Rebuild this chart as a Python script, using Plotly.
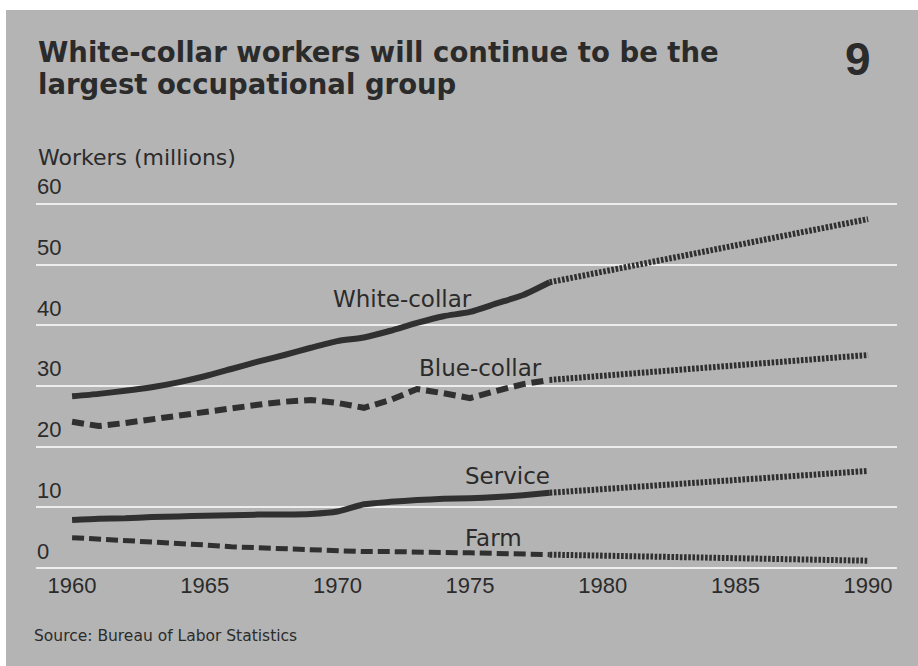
import plotly.graph_objects as go

# Employment by occupational group, millions of workers
years_hist = list(range(1960, 1979))
proj_years = [1978, 1990]

white_collar = [28.3, 28.7, 29.2, 29.8, 30.6, 31.6, 32.8, 34.0, 35.1, 36.3,
                37.4, 38.0, 39.1, 40.4, 41.5, 42.2, 43.6, 45.0, 47.1]
white_collar_proj = [47.1, 57.5]

blue_collar = [24.1, 23.4, 23.9, 24.5, 25.2, 25.9, 26.4, 26.9, 27.4, 27.7,
               27.2, 26.4, 27.7, 29.5, 28.8, 28.0, 29.2, 30.3, 31.0]
blue_collar_proj = [31.0, 35.1]

service = [7.9, 8.1, 8.2, 8.4, 8.5, 8.6, 8.7, 8.8, 8.8, 8.9,
           9.3, 10.5, 10.9, 11.2, 11.4, 11.5, 11.7, 12.0, 12.4]
service_proj = [12.4, 16.0]

farm = [5.0, 4.8, 4.5, 4.3, 4.0, 3.8, 3.5, 3.3, 3.2, 3.0,
        2.8, 2.7, 2.7, 2.7, 2.6, 2.5, 2.4, 2.3, 2.2]
farm_proj = [2.2, 1.2]

x_ticks = [1960, 1965, 1970, 1975, 1980, 1985, 1990]
y_ticks = [0, 10, 20, 30, 40, 50, 60]

series_labels = ["White-collar", "Blue-collar", "Service", "Farm"]
label_pos = [(1972.44, 44.4), (1975.38, 32.9), (1976.4, 15.1), (1975.9, 4.9)]

INK = "#2b2b2b"
LINE = "#303030"
BG = "#b4b4b4"
GRID = "#ededed"
SANS = "DejaVu Sans"
NUM = "Liberation Sans"

W, H = 918, 666
ML, MR, MT, MB = 36, 21, 192, 96

fig = go.Figure()

# historical series
fig.add_trace(go.Scatter(x=years_hist, y=white_collar, mode="lines",
                         line=dict(color=LINE, width=6, shape="spline", smoothing=0.6)))
fig.add_trace(go.Scatter(x=years_hist, y=blue_collar, mode="lines",
                         line=dict(color=LINE, width=6, dash="12px,6px")))
fig.add_trace(go.Scatter(x=years_hist, y=service, mode="lines",
                         line=dict(color=LINE, width=6, shape="spline", smoothing=0.6)))
fig.add_trace(go.Scatter(x=years_hist, y=farm, mode="lines",
                         line=dict(color=LINE, width=5, dash="12px,5px")))

# projections to 1990
for proj in (white_collar_proj, blue_collar_proj, service_proj, farm_proj):
    fig.add_trace(go.Scatter(x=proj_years, y=proj, mode="lines",
                             line=dict(color=LINE, width=6, dash="2.6px,1.6px")))

annotations = []
for name, (lx, ly) in zip(series_labels, label_pos):
    annotations.append(dict(x=lx, y=ly, xref="x", yref="y", text=name,
                            showarrow=False, xanchor="center", yanchor="middle",
                            font=dict(family=SANS, size=23, color=INK)))

for v in y_ticks:
    annotations.append(dict(x=0, y=v, xref="paper", yref="y", text=str(v),
                            showarrow=False, xanchor="left", yanchor="middle",
                            yshift=17, xshift=-1,
                            font=dict(family=NUM, size=22, color=INK)))

plot_w = W - ML - MR
plot_h = H - MT - MB


def px_x(p):
    return (p - ML) / plot_w


def px_y(p):
    return (H - MB - p) / plot_h


annotations += [
    dict(x=px_x(36), y=px_y(52), xref="paper", yref="paper", showarrow=False,
         xanchor="left", yanchor="middle",
         text="<b>White-collar workers will continue to be the</b>",
         font=dict(family=SANS, size=27.5, color=INK)),
    dict(x=px_x(36), y=px_y(84), xref="paper", yref="paper", showarrow=False,
         xanchor="left", yanchor="middle",
         text="<b>largest occupational group</b>",
         font=dict(family=SANS, size=27.5, color=INK)),
    dict(x=px_x(858), y=px_y(59), xref="paper", yref="paper", showarrow=False,
         xanchor="center", yanchor="middle", text="<b>9</b>",
         font=dict(family=NUM, size=46, color=INK)),
    dict(x=px_x(36), y=px_y(158), xref="paper", yref="paper", showarrow=False,
         xanchor="left", yanchor="middle", text="Workers (millions)",
         font=dict(family=SANS, size=22, color=INK)),
    dict(x=px_x(32), y=px_y(636), xref="paper", yref="paper", showarrow=False,
         xanchor="left", yanchor="middle", text="Source: Bureau of Labor Statistics",
         font=dict(family=SANS, size=15.5, color=INK)),
]

shapes = [
    # white border strips on the top and left of the panel
    dict(type="rect", xref="paper", yref="paper", x0=px_x(0), x1=px_x(W),
         y0=px_y(0), y1=px_y(10), fillcolor="white", line=dict(width=0), layer="below"),
    dict(type="rect", xref="paper", yref="paper", x0=px_x(0), x1=px_x(6),
         y0=px_y(0), y1=px_y(H), fillcolor="white", line=dict(width=0), layer="below"),
]

fig.update_layout(
    width=W, height=H, autosize=False,
    margin=dict(l=ML, r=MR, t=MT, b=MB, pad=0),
    paper_bgcolor=BG, plot_bgcolor=BG,
    showlegend=False,
    annotations=annotations,
    shapes=shapes,
    xaxis=dict(range=[1958.64, 1991.09], tickvals=x_ticks,
               ticktext=[str(t) for t in x_ticks], showgrid=False,
               zeroline=False, showline=False, ticks="",
               tickfont=dict(family=NUM, size=22, color=INK)),
    yaxis=dict(range=[-0.33, 61.97], tickvals=y_ticks, showticklabels=False,
               showgrid=True, gridcolor=GRID, gridwidth=2, zeroline=False,
               showline=False, ticks=""),
)

fig.write_html("out.html")
